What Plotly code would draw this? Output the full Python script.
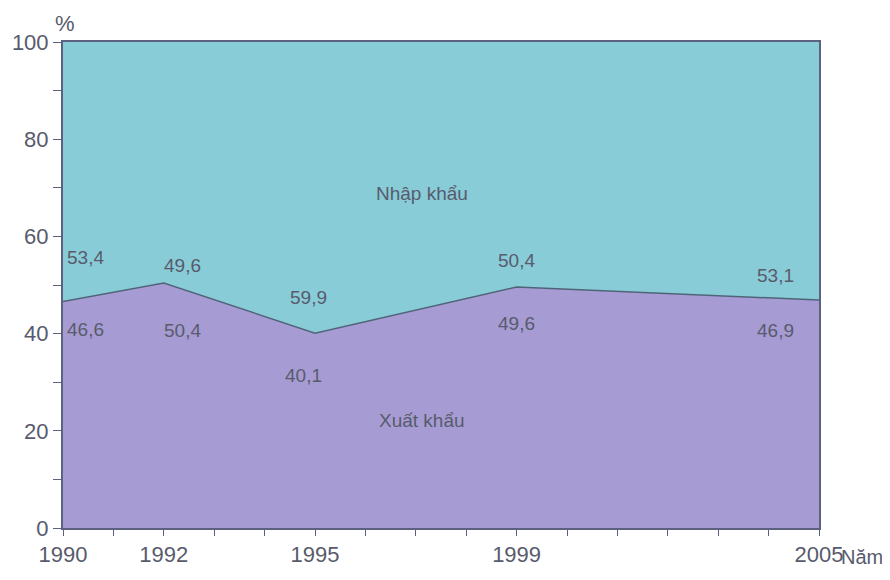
import plotly.graph_objects as go

years = [1990, 1992, 1995, 1999, 2005]
export_pct = [46.6, 50.4, 40.1, 49.6, 46.9]   # Xuất khẩu
import_pct = [53.4, 49.6, 59.9, 50.4, 53.1]   # Nhập khẩu
y_ticks = [0, 20, 40, 60, 80, 100]

TXT = "#585b6c"
AX = "#5d6180"
FONT = "Liberation Sans, Arial, sans-serif"

fig = go.Figure()
fig.add_trace(go.Scatter(
    x=years, y=export_pct, stackgroup="one", mode="lines",
    line=dict(color="#4f6478", width=1.5), fillcolor="#a69bd3",
    name="Xuất khẩu", hoverinfo="skip"))
fig.add_trace(go.Scatter(
    x=years, y=import_pct, stackgroup="one", mode="lines",
    line=dict(color="#4f6478", width=0), fillcolor="#88ccd8",
    name="Nhập khẩu", hoverinfo="skip"))

# value labels, placed relative to the boundary line
up_shift = [44, 18, 36, 26, 25]
down_shift = [-28, -47, -42, -37, -30]
x_shift_up = [22, 19, -7, 0, -44]
x_shift_down = [22, 19, -12, 0, -44]
for i, yr in enumerate(years):
    fig.add_annotation(x=yr, y=export_pct[i], text=f"{import_pct[i]:.1f}".replace(".", ","),
                       showarrow=False, xshift=x_shift_up[i], yshift=up_shift[i],
                       font=dict(size=19, color=TXT, family=FONT))
    fig.add_annotation(x=yr, y=export_pct[i], text=f"{export_pct[i]:.1f}".replace(".", ","),
                       showarrow=False, xshift=x_shift_down[i], yshift=down_shift[i],
                       font=dict(size=19, color=TXT, family=FONT))

fig.add_annotation(x=1997.13, y=68.9, text="Nhập khẩu", showarrow=False,
                   font=dict(size=19, color=TXT, family=FONT))
fig.add_annotation(x=1997.13, y=22.2, text="Xuất khẩu", showarrow=False,
                   font=dict(size=19, color=TXT, family=FONT))
fig.add_annotation(x=0, xref="paper", y=1, yref="paper", text="%", showarrow=False,
                   xanchor="left", yanchor="bottom", xshift=-10, yshift=4,
                   font=dict(size=22, color=TXT, family=FONT))
fig.add_annotation(x=1, xref="paper", y=0, yref="paper", text="Năm", showarrow=False,
                   xanchor="left", yanchor="top", xshift=20, yshift=-16,
                   font=dict(size=20, color=TXT, family=FONT))

fig.update_xaxes(range=[1990, 2005], tickvals=years, ticktext=[str(y) for y in years],
                 showline=True, linecolor=AX, linewidth=2, mirror=True, automargin=False,
                 ticks="outside", ticklen=6, tickcolor=AX, showgrid=False, zeroline=False,
                 minor=dict(dtick=1, ticks="outside", ticklen=6, tickcolor=AX),
                 tickfont=dict(size=22, color=TXT, family=FONT))
fig.update_yaxes(range=[0, 100], tickvals=y_ticks,
                 showline=True, linecolor=AX, linewidth=2, mirror=True, automargin=False,
                 ticks="outside", ticklen=8, tickcolor=AX, showgrid=False, zeroline=False,
                 minor=dict(dtick=10, ticks="outside", ticklen=8, tickcolor=AX),
                 tickfont=dict(size=22, color=TXT, family=FONT))

fig.update_layout(width=890, height=580, showlegend=False,
                  margin=dict(l=55, r=79, t=34, b=60),
                  paper_bgcolor="white", plot_bgcolor="white")
fig.write_html("out.html")
